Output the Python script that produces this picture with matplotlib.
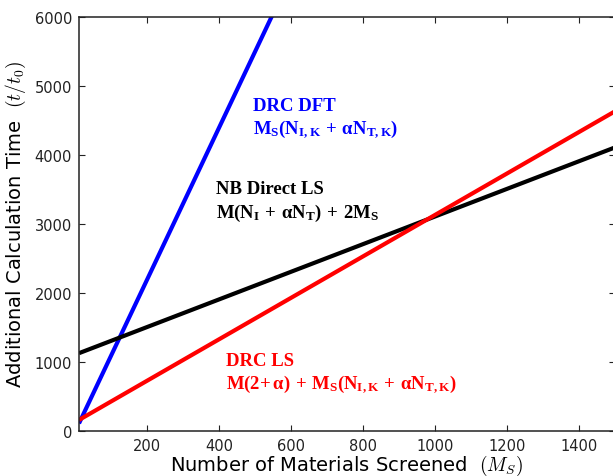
import matplotlib
matplotlib.use("Agg")
import matplotlib.pyplot as plt

# Number of materials screened (endpoints of each linear cost curve)
ms_points = [10, 1500]
ms_points_dft = [10, 600]

# Additional calculation time (t/t0) at those endpoints
drc_dft = [110, 6600]
nb_direct_ls = [1127, 4107]
drc_ls = [160, 4630]

x_ticks = [200, 400, 600, 800, 1000, 1200, 1400]
y_ticks = [0, 1000, 2000, 3000, 4000, 5000, 6000]

plt.rcParams["mathtext.fontset"] = "custom"
plt.rcParams["mathtext.rm"] = "Liberation Serif:bold"
plt.rcParams["mathtext.it"] = "Liberation Serif:bold"
plt.rcParams["mathtext.bf"] = "Liberation Serif:bold"

fig = plt.figure(figsize=(6.13, 4.77), dpi=100)
ax = fig.add_axes([79 / 613, 1 - 432 / 477, (615 - 79) / 613, (432 - 17.7) / 477])

ax.plot(ms_points_dft, drc_dft, color="#0000ff", lw=3, solid_capstyle="butt")
ax.plot(ms_points, nb_direct_ls, color="black", lw=3, solid_capstyle="butt")
ax.plot(ms_points, drc_ls, color="#ff0000", lw=3, solid_capstyle="butt")

ax.set_xlim(10, 1500)
ax.set_ylim(0, 6000)
ax.set_xticks(x_ticks)
ax.set_yticks(y_ticks)
ax.tick_params(direction="in", top=True, right=True, length=4, labelsize=10.5,
               colors="#222222", pad=5)
for s in ax.spines.values():
    s.set_linewidth(1.1)
    s.set_color("#222222")

ax.set_xlabel("Number of Materials Screened  $(M_S)$", fontsize=14,
              math_fontfamily="cm", labelpad=0)
ax.set_ylabel("Additional Calculation Time  $(t/t_0)$", fontsize=14,
              math_fontfamily="cm", labelpad=5)

serif = dict(family="Liberation Serif", weight="bold", fontsize=13.5,
             ha="left", va="center")

ax.text(494, 4707, "DRC DFT", color="#0000ff", **serif)
ax.text(494, 4374, r"$\mathrm{M_S(N_{I,K}\,+\,\alpha N_{T,K})}$", color="#0000ff", **serif)

ax.text(392, 3505, "NB Direct LS", color="black", **serif)
ax.text(392, 3172, r"$\mathrm{M(N_I\,+\,\alpha N_T)\,+\,2M_S}$", color="black", **serif)

ax.text(419, 1028, "DRC LS", color="#ff0000", **serif)
ax.text(419, 681,
        r"$\mathrm{M(2{+}\,\alpha)\,+\,M_S(N_{I,K}\,+\,\alpha N_{T,K})}$",
        color="#ff0000", **serif)

fig.savefig("out.png", dpi=100)
